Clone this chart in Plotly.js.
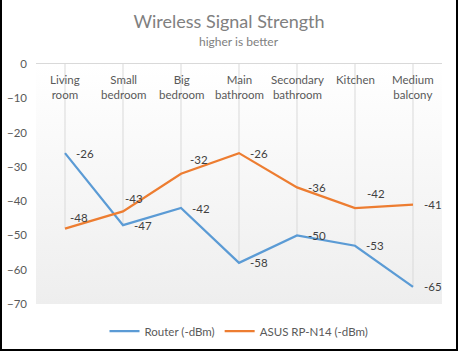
<!DOCTYPE html>
<html>
<head>
<meta charset="utf-8">
<script src="https://cdn.plot.ly/plotly-3.0.1.min.js"></script>
<style>
  html, body { margin: 0; padding: 0; background: #fff; }
  #wrap { width: 454px; height: 349px; border-left: 2px solid #000; border-right: 2px solid #000; border-bottom: 2px solid #000; overflow: hidden; }
  #chart { width: 454px; height: 349px; }
</style>
</head>
<body>
<div id="wrap"><div id="chart"></div></div>
<script>
var categories = ["Living room", "Small bedroom", "Big bedroom", "Main bathroom", "Secondary bathroom", "Kitchen", "Medium balcony"];
var tickLabels = ["Living<br>room", "Small<br>bedroom", "Big<br>bedroom", "Main<br>bathroom", "Secondary<br>bathroom", "Kitchen", "Medium<br>balcony"];
var routerValues = [-26, -47, -42, -58, -50, -53, -65];
var asusValues = [-48, -43, -32, -26, -36, -42, -41];
var seriesNames = ["Router (-dBm)", "ASUS RP-N14 (-dBm)"];

// label offsets (pixels) for data labels
var routerLabelDX = [9, 9, 9, 9, 9, 9, 9];
var routerLabelDY = [0, 0, 0, 0, 0, 0, 0];
var asusLabelDX = [3, 0, 7, 9, 9, 10, 9];
var asusLabelDY = [11, 13, 14, 0, 0, 15, 0];

var FONT = "Lato, 'Open Sans', sans-serif";

// drop lines from the category axis (at 0) to the lowest point of each category
var dropX = [], dropY = [];
categories.forEach(function (c, i) {
  dropX.push(c, c, null);
  dropY.push(0, Math.min(routerValues[i], asusValues[i]), null);
});

var traces = [
  { x: dropX, y: dropY, mode: "lines", line: { color: "#d9d9d9", width: 1 }, hoverinfo: "skip", showlegend: false },
  { x: categories, y: routerValues, name: seriesNames[0], mode: "lines", line: { color: "#5b9bd5", width: 2.25 } },
  { x: categories, y: asusValues, name: seriesNames[1], mode: "lines", line: { color: "#ed7d31", width: 2.25 } }
];

var grad = 'data:image/svg+xml;utf8,' + encodeURIComponent(
  '<svg xmlns="http://www.w3.org/2000/svg" width="100" height="100" preserveAspectRatio="none">' +
  '<defs><linearGradient id="g" x1="0" y1="0" x2="0" y2="1"><stop offset="0" stop-color="#ffffff"/><stop offset="1" stop-color="#eeeeee"/></linearGradient></defs>' +
  '<rect width="100" height="100" fill="url(#g)"/></svg>');

var annotations = categories.map(function (c, i) {
  return { x: c, xref: "x", y: 1, yref: "paper", yanchor: "top", yshift: -7, showarrow: false,
    text: tickLabels[i], font: { family: FONT, size: 11.5, color: "#595959" }, align: "center" };
});

var labelFont = { family: FONT, size: 11.5, color: "#404040" };
function addLabels(vals, dx, dy) {
  vals.forEach(function (v, i) {
    annotations.push({ x: categories[i], y: v, xref: "x", yref: "y", text: String(v), showarrow: false,
      xanchor: "left", yanchor: "middle", xshift: dx[i], yshift: dy[i], font: labelFont });
  });
}
addLabels(routerValues, routerLabelDX, routerLabelDY);
addLabels(asusValues, asusLabelDX, asusLabelDY);

annotations.push({ text: "higher is better", xref: "paper", yref: "paper", x: 0.5, y: 1, yanchor: "middle", yshift: 23,
  showarrow: false, font: { family: FONT, size: 12, color: "#808080" } });

var layout = {
  width: 454, height: 349,
  margin: { l: 34, r: 14, t: 64, b: 45 },
  paper_bgcolor: "#ffffff", plot_bgcolor: "rgba(0,0,0,0)",
  font: { family: FONT, color: "#595959" },
  title: {
    text: "Wireless Signal Strength",
    x: 0.5, xanchor: "center", y: 1 - 22 / 349, yref: "container", yanchor: "middle",
    font: { family: FONT, size: 18, color: "#808080" }
  },
  xaxis: {
    type: "category", range: [-0.5, 6.5], side: "top", showticklabels: false, ticks: "",
    showgrid: false, zeroline: false, showline: true, linecolor: "#d9d9d9", linewidth: 1, fixedrange: true
  },
  yaxis: {
    range: [-70, 0], dtick: 10, tick0: 0, showgrid: false, zeroline: false, showline: false, ticks: "",
    tickfont: { size: 11.5, color: "#595959" }, ticklabelstandoff: 8, fixedrange: true
  },
  images: [{ source: grad, xref: "paper", yref: "paper", x: 0, y: 1, sizex: 1, sizey: 1, sizing: "stretch", layer: "below", xanchor: "left", yanchor: "top" }],
  annotations: annotations,
  showlegend: true,
  legend: { orientation: "h", x: 0.5, xanchor: "center", yref: "container", y: 18 / 349, yanchor: "middle",
    font: { size: 11.5, color: "#595959" }, itemwidth: 30 },
  hovermode: false
};

Plotly.newPlot("chart", traces, layout, { displayModeBar: false, staticPlot: true });
</script>
</body>
</html>
